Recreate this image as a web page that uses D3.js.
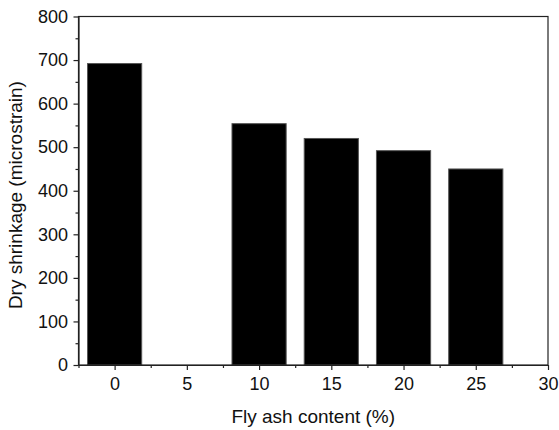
<!DOCTYPE html>
<html><head><meta charset="utf-8">
<script src="https://cdn.jsdelivr.net/npm/d3@7"></script>
<style>body{margin:0;background:#fff}svg{display:block}</style>
</head><body>
<script>
const categories = [0, 5, 10, 15, 20, 25];
const values = [692, null, 554, 520, 492, 450];
const xTicks = [0, 5, 10, 15, 20, 25, 30];
const yTicks = [0, 100, 200, 300, 400, 500, 600, 700, 800];

const W = 559, H = 430;
const m = {left: 78.5, right: 11, top: 16.5, bottom: 65};
const svg = d3.select("body").append("svg").attr("width", W).attr("height", H);
const x = d3.scaleLinear().domain([-2.5, 30]).range([m.left, W - m.right]);
const y = d3.scaleLinear().domain([0, 800]).range([H - m.bottom, m.top]);
const font = "Liberation Sans, Arial, sans-serif";
const barW = 3.75;

svg.append("g").selectAll("rect").data(categories.map((c, i) => ({c, v: values[i]})).filter(d => d.v != null))
  .join("rect")
  .attr("x", d => x(d.c - barW / 2)).attr("width", d => x(d.c + barW / 2) - x(d.c - barW / 2))
  .attr("y", d => y(d.v)).attr("height", d => y(0) - y(d.v))
  .attr("fill", "#000").attr("stroke", "#555").attr("stroke-width", 1);

// frame
svg.append("rect").attr("x", m.left).attr("y", m.top).attr("width", W - m.right - m.left).attr("height", H - m.bottom - m.top)
  .attr("fill", "none").attr("stroke", "#222").attr("stroke-width", 1.2);

svg.append("g").attr("transform", `translate(0,${H - m.bottom})`)
  .call(d3.axisBottom(x).tickValues(xTicks).tickSize(5).tickSizeOuter(0).tickPadding(7));
svg.append("g").attr("transform", `translate(0,${H - m.bottom})`)
  .call(d3.axisBottom(x).tickValues(d3.range(-2.5, 30, 5)).tickSize(3).tickFormat("").tickSizeOuter(0))
  .select(".domain").remove();
svg.append("g").attr("transform", `translate(${m.left},0)`)
  .call(d3.axisLeft(y).tickValues(yTicks).tickSize(5).tickSizeOuter(0).tickPadding(5.5));
svg.append("g").attr("transform", `translate(${m.left},0)`)
  .call(d3.axisLeft(y).tickValues(d3.range(50, 800, 100)).tickSize(3).tickFormat("").tickSizeOuter(0))
  .select(".domain").remove();

svg.selectAll(".tick line").attr("stroke", "#222").attr("stroke-width", 1.2);
svg.selectAll(".domain").attr("stroke", "#222").attr("stroke-width", 1.2);
svg.selectAll(".tick text").attr("font-family", font).attr("font-size", 18).attr("fill", "#111");

svg.append("text").attr("x", x(13.75)).attr("y", 423).attr("text-anchor", "middle")
  .attr("font-family", font).attr("font-size", 19).attr("fill", "#111").text("Fly ash content (%)");
svg.append("text").attr("transform", `translate(22,${y(390)}) rotate(-90)`).attr("text-anchor", "middle")
  .attr("font-family", font).attr("font-size", 19).attr("fill", "#111").text("Dry shrinkage (microstrain)");
</script>
</body></html>
